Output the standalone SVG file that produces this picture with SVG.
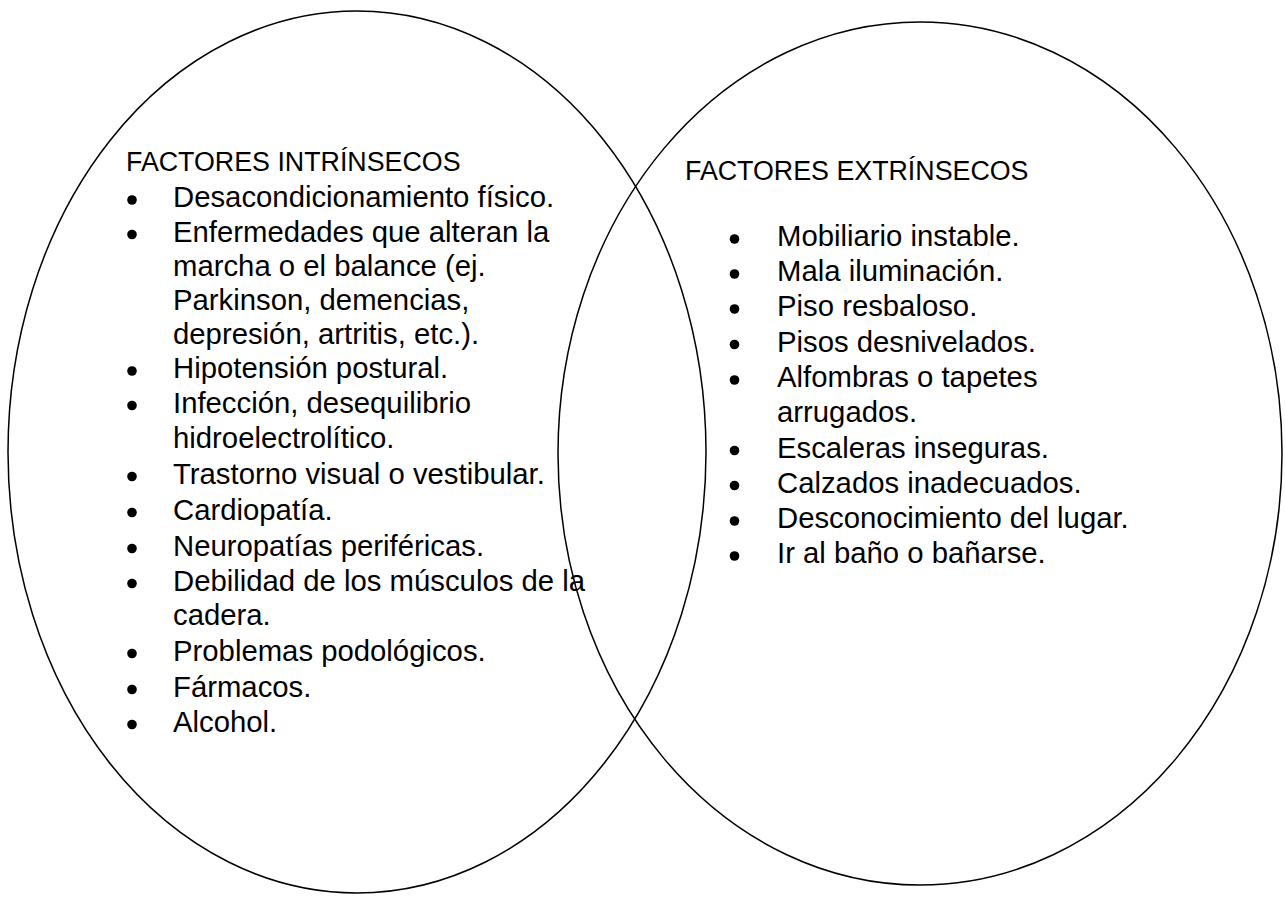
<svg xmlns="http://www.w3.org/2000/svg" width="1285" height="897" viewBox="0 0 1285 897">
<style>
  .shape { fill: none; stroke: #000; stroke-width: 1.5; }
  .title { font-family: "Liberation Sans", Arial, sans-serif; font-size: 26.8px; fill: #000; }
  .item { font-family: "Liberation Sans", Arial, sans-serif; font-size: 29.3px; fill: #000; }
  .dot { fill: #000; }
</style>
<rect width="1285" height="897" fill="#fff"/>
<g id="node-intrinsecos">
  <ellipse class="shape" cx="357" cy="452" rx="349" ry="441"/>
  <text class="title" x="126" y="171">FACTORES INTRÍNSECOS</text>
  <circle class="dot" cx="132" cy="200" r="4.8"/>
  <circle class="dot" cx="132" cy="234.5" r="4.8"/>
  <circle class="dot" cx="132" cy="371" r="4.8"/>
  <circle class="dot" cx="132" cy="405.5" r="4.8"/>
  <circle class="dot" cx="132" cy="476.5" r="4.8"/>
  <circle class="dot" cx="132" cy="512.5" r="4.8"/>
  <circle class="dot" cx="132" cy="548.5" r="4.8"/>
  <circle class="dot" cx="132" cy="583.5" r="4.8"/>
  <circle class="dot" cx="132" cy="653.5" r="4.8"/>
  <circle class="dot" cx="132" cy="689.5" r="4.8"/>
  <circle class="dot" cx="132" cy="724.5" r="4.8"/>
  <text class="item" x="173" y="207">Desacondicionamiento físico.</text>
  <text class="item" x="173" y="241.5">Enfermedades que alteran la</text>
  <text class="item" x="173" y="275.5">marcha o el balance (ej.</text>
  <text class="item" x="173" y="309.5">Parkinson, demencias,</text>
  <text class="item" x="173" y="343.5">depresión, artritis, etc.).</text>
  <text class="item" x="173" y="378">Hipotensión postural.</text>
  <text class="item" x="173" y="412.5">Infección, desequilibrio</text>
  <text class="item" x="173" y="448">hidroelectrolítico.</text>
  <text class="item" x="173" y="483.5">Trastorno visual o vestibular.</text>
  <text class="item" x="173" y="519.5">Cardiopatía.</text>
  <text class="item" x="173" y="555.5">Neuropatías periféricas.</text>
  <text class="item" x="173" y="590.5">Debilidad de los músculos de la</text>
  <text class="item" x="173" y="624.5">cadera.</text>
  <text class="item" x="173" y="660.5">Problemas podológicos.</text>
  <text class="item" x="173" y="696.5">Fármacos.</text>
  <text class="item" x="173" y="731.5">Alcohol.</text>
</g>
<g id="node-extrinsecos">
  <ellipse class="shape" cx="920" cy="453.5" rx="362" ry="431.5"/>
  <text class="title" x="685" y="180">FACTORES EXTRÍNSECOS</text>
  <circle class="dot" cx="734.5" cy="239" r="4.8"/>
  <circle class="dot" cx="734.5" cy="274" r="4.8"/>
  <circle class="dot" cx="734.5" cy="309" r="4.8"/>
  <circle class="dot" cx="734.5" cy="344.5" r="4.8"/>
  <circle class="dot" cx="734.5" cy="380" r="4.8"/>
  <circle class="dot" cx="734.5" cy="450.5" r="4.8"/>
  <circle class="dot" cx="734.5" cy="485.5" r="4.8"/>
  <circle class="dot" cx="734.5" cy="521" r="4.8"/>
  <circle class="dot" cx="734.5" cy="556" r="4.8"/>
  <text class="item" x="777" y="246">Mobiliario instable.</text>
  <text class="item" x="777" y="281">Mala iluminación.</text>
  <text class="item" x="777" y="316">Piso resbaloso.</text>
  <text class="item" x="777" y="351.5">Pisos desnivelados.</text>
  <text class="item" x="777" y="387">Alfombras o tapetes</text>
  <text class="item" x="777" y="422">arrugados.</text>
  <text class="item" x="777" y="457.5">Escaleras inseguras.</text>
  <text class="item" x="777" y="492.5">Calzados inadecuados.</text>
  <text class="item" x="777" y="528">Desconocimiento del lugar.</text>
  <text class="item" x="777" y="563">Ir al baño o bañarse.</text>
</g>
<g id="connectors"></g>
</svg>
